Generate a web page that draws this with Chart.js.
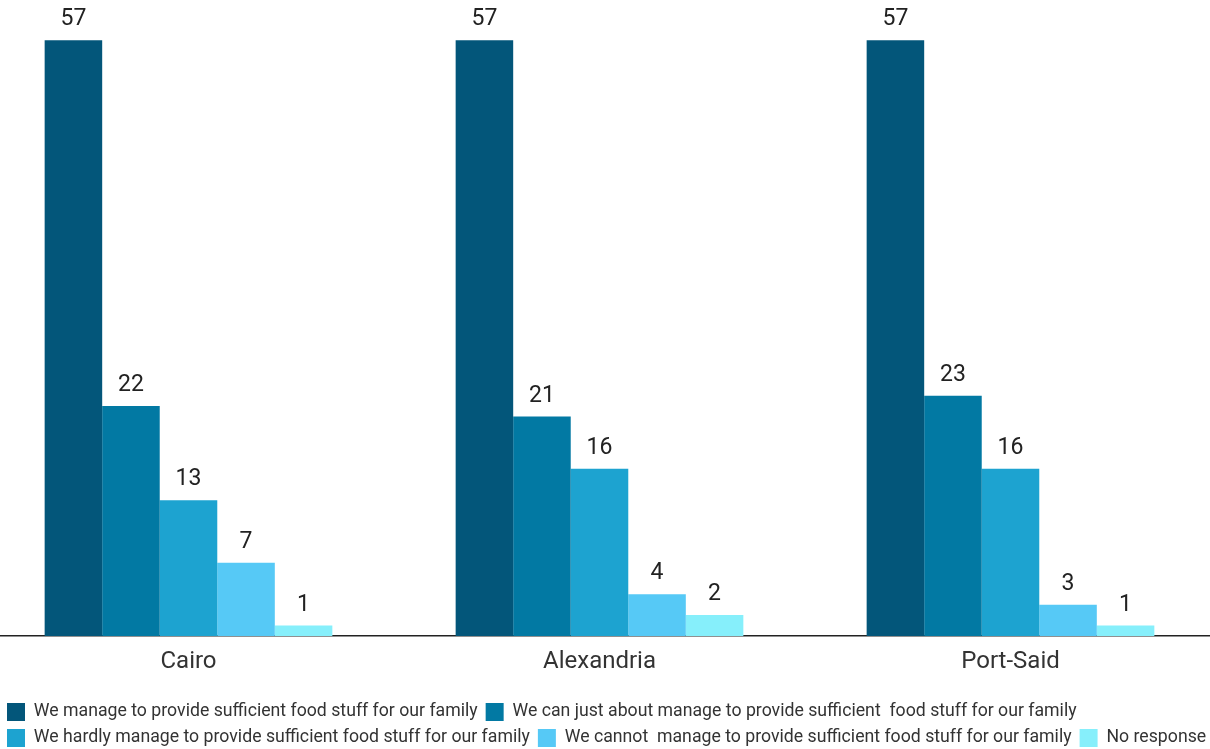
<!DOCTYPE html>
<html>
<head>
<meta charset="utf-8">
<script src="https://cdn.jsdelivr.net/npm/chart.js@4.4.1/dist/chart.umd.min.js"></script>
<style>
  html, body { margin: 0; padding: 0; background: #ffffff; overflow: hidden; width: 1210px; height: 749px; }
  #wrap { position: absolute; left: -18px; top: 0; width: 1240px; height: 757px; }
  canvas { display: block; }
</style>
</head>
<body>
<div id="wrap"><canvas id="c" width="1240" height="757"></canvas></div>
<script>
// ---- data ----
const cities = ['Cairo', 'Alexandria', 'Port-Said'];
const seriesNames = [
  'We manage to provide sufficient food stuff for our family',
  'We can just about manage to provide sufficient  food stuff for our family',
  'We hardly manage to provide sufficient food stuff for our family',
  'We cannot  manage to provide sufficient food stuff for our family',
  'No response'
];
const manage     = [57, 57, 57];
const justAbout  = [22, 21, 23];
const hardly     = [13, 16, 16];
const cannot     = [7, 4, 3];
const noResponse = [1, 2, 1];

const seriesValues = [manage, justAbout, hardly, cannot, noResponse];
const seriesColors = ['#03567A', '#0279A3', '#1DA3D0', '#56C9F6', '#86EFFB'];

const FONT = 'Roboto, "Noto Sans", Arial, sans-serif';

const valueLabels = {
  id: 'valueLabels',
  afterDatasetsDraw(chart) {
    const ctx = chart.ctx;
    ctx.save();
    ctx.font = '23px ' + FONT;
    ctx.fillStyle = '#222222';
    ctx.textAlign = 'center';
    ctx.textBaseline = 'alphabetic';
    chart.data.datasets.forEach((ds, di) => {
      const meta = chart.getDatasetMeta(di);
      meta.data.forEach((bar, i) => {
        ctx.fillText(String(ds.data[i]), bar.x, bar.y - 15);
      });
    });
    ctx.restore();
  }
};

const legendShift = {
  id: 'legendShift',
  afterLayout(chart) {
    const l = chart.legend;
    if (l) { l.left += 16; l.right += 16; }
  }
};

new Chart(document.getElementById('c'), {
  type: 'bar',
  data: {
    labels: cities,
    datasets: seriesValues.map((vals, i) => ({
      label: seriesNames[i],
      data: vals,
      backgroundColor: seriesColors[i],
      borderWidth: 0,
      categoryPercentage: 0.7,
      barPercentage: 1.0
    }))
  },
  options: {
    responsive: false,
    animation: false,
    layout: { padding: { top: 9, left: 1, right: 6, bottom: 0 } },
    scales: {
      x: {
        grid: { display: false, drawTicks: false },
        border: { display: true, color: '#222222', width: 1.5 },
        ticks: { color: '#333333', font: { family: FONT, size: 24 }, padding: 12 },
        afterFit(scale) { scale.height = 59; }
      },
      y: {
        display: false,
        min: 0,
        max: 60
      }
    },
    plugins: {
      tooltip: { enabled: false },
      legend: {
        position: 'bottom',
        align: 'start',
        labels: {
          boxWidth: 18,
          boxHeight: 18,
          padding: 8,
          color: '#333333',
          font: { family: FONT, size: 17.7 }
        }
      }
    }
  },
  plugins: [valueLabels, legendShift]
});
</script>
</body>
</html>
